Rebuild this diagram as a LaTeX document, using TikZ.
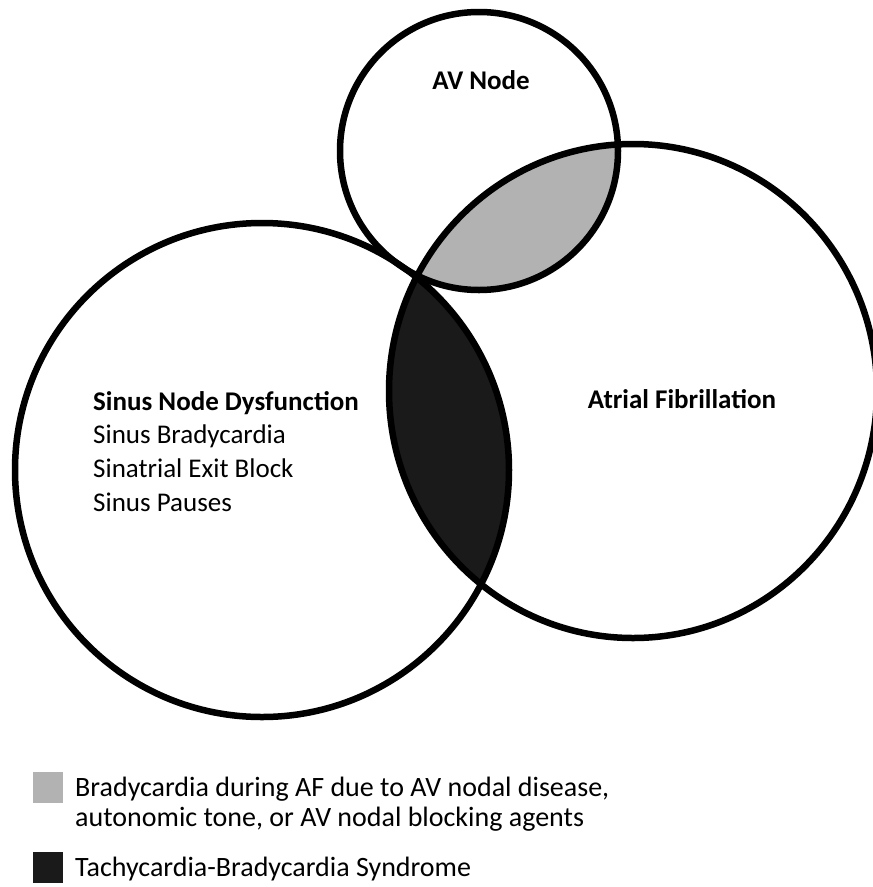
\documentclass[tikz,border=0pt]{standalone}
\usepackage{fontspec}
\setmainfont{Carlito}
\begin{document}
\begin{tikzpicture}[x=1pt,y=-1pt,
  ring/.style={draw=black,line width=6.5pt},
  title/.style={font=\fontsize{27}{33}\selectfont\bfseries,inner sep=0pt,anchor=base},
  item/.style={font=\fontsize{27}{33}\selectfont,inner sep=0pt,anchor=base west},
  keytext/.style={font=\fontsize{28}{30}\selectfont,inner sep=0pt,anchor=base west},
  keybox/.style={draw=none,minimum width=30pt,minimum height=31pt,inner sep=0pt,anchor=north west}]
\definecolor{avgray}{RGB}{178,178,178}
\definecolor{tbdark}{RGB}{26,26,26}
\useasboundingbox (0,0) rectangle (873,887);
\clip (0,0) rectangle (873,887);
% overlap regions
\begin{scope}
  \clip (633,391) ellipse [x radius=244, y radius=247];
  \fill[avgray] (479,151) circle [radius=139];
  \fill[tbdark] (262,470) circle [radius=247];
\end{scope}
% the three sets
\draw[ring] (479,151) circle [radius=139];
\draw[ring] (633,391) ellipse [x radius=244, y radius=247];
\draw[ring] (262,470) circle [radius=247];
% labels
\node[title] (avlabel) at (481,89) {AV Node};
\node[title] (aflabel) at (682,408) {Atrial Fibrillation};
\node[item,font=\fontsize{27}{33}\selectfont\bfseries] (sndtitle) at (93,410) {Sinus Node Dysfunction};
\node[item] (snd1) at (93,443) {Sinus Bradycardia};
\node[item] (snd2) at (93,477) {Sinatrial Exit Block};
\node[item] (snd3) at (93,511) {Sinus Pauses};
% key
\node[keybox,fill=avgray] (keygray) at (33,772) {};
\node[keytext] (keygraytext) at (75,796) {Bradycardia during AF due to AV nodal disease,};
\node[keytext] (keygraytext2) at (75,826) {autonomic tone, or AV nodal blocking agents};
\node[keybox,fill=tbdark] (keydark) at (33,852) {};
\node[keytext] (keydarktext) at (75,876) {Tachycardia-Bradycardia Syndrome};
\end{tikzpicture}
\end{document}
